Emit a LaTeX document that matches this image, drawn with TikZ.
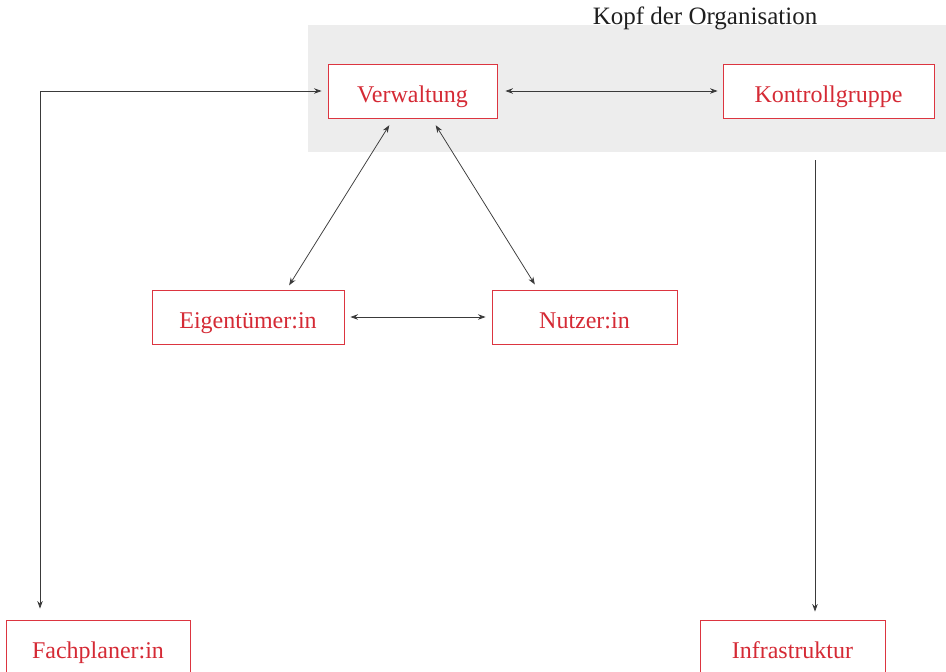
\documentclass[tikz,border=0pt]{standalone}
\usepackage{fontspec}
\setmainfont{Liberation Serif}
\usetikzlibrary{arrows.meta,calc}
\definecolor{boxred}{HTML}{DC3540}
\definecolor{textred}{HTML}{D52A35}
\definecolor{headgray}{HTML}{EDEDED}
\definecolor{linkgray}{HTML}{3A3A3A}
\tikzset{
  role/.style={draw=boxred, line width=0.9pt, fill=white, text=textred,
    minimum height=54pt, inner sep=0pt, text height=22pt, text depth=0pt,
    font=\fontsize{24}{26}\selectfont},
  tip/.style={Stealth[length=7.5pt,width=5.5pt]},
  link/.style={draw=linkgray, line width=0.75pt, arrows={Stealth[length=7.5pt,width=5.5pt]-Stealth[length=7.5pt,width=5.5pt]}},
  onelink/.style={draw=linkgray, line width=0.75pt, arrows={-Stealth[length=7.5pt,width=5.5pt]}}
}
\begin{document}
\begin{tikzpicture}[x=1pt,y=-1pt]
  \useasboundingbox (0,0) rectangle (946,672);
  \clip (0,0) rectangle (946,672);
  \fill[white] (0,0) rectangle (946,672);

  % head of the organisation
  \node[fill=headgray, minimum width=638pt, minimum height=127pt, inner sep=0pt]
    (head) at (627,88.5) {};
  \node[text=black!88, font=\fontsize{25}{27}\selectfont] (title) at (705,18)
    {Kopf der Organisation};

  % roles
  \node[role, minimum width=169pt] (V) at (412.5,91) {Verwaltung};
  \node[role, minimum width=211pt] (K) at (828.5,91) {Kontrollgruppe};
  \node[role, minimum width=192pt] (E) at (248,317) {Eigentümer:in};
  \node[role, minimum width=185pt] (N) at (584.5,317) {Nutzer:in};
  \node[role, minimum width=184pt] (F) at (98,647) {Fachplaner:in};
  \node[role, minimum width=185pt] (I) at (792.5,647) {Infrastruktur};

  % connectors
  \draw[link, shorten <=8pt, shorten >=5pt] (V.east) -- (K.west);
  \draw[link, shorten <=6pt, shorten >=6pt] (E.east) -- (N.west);
  \draw[link, shorten <=8pt, shorten >=5pt]
    ([xshift=-19pt]V.south) -- ([xshift=38.5pt]E.north);
  \draw[link, shorten <=8pt, shorten >=6pt]
    ([xshift=19pt]V.south) -- ([xshift=-46.5pt]N.north);
  \coordinate (bend) at ([xshift=-58pt]F.north |- V.west);
  \draw[link, shorten <=6pt, shorten >=11pt]
    (V.west) -- (bend) -- ([xshift=-58pt]F.north);
  \coordinate (kdown) at ([xshift=-13.5pt]K.south |- head.south);
  \draw[onelink, shorten <=8pt, shorten >=8pt]
    (kdown) -- ([xshift=22.5pt]I.north);
\end{tikzpicture}
\end{document}
